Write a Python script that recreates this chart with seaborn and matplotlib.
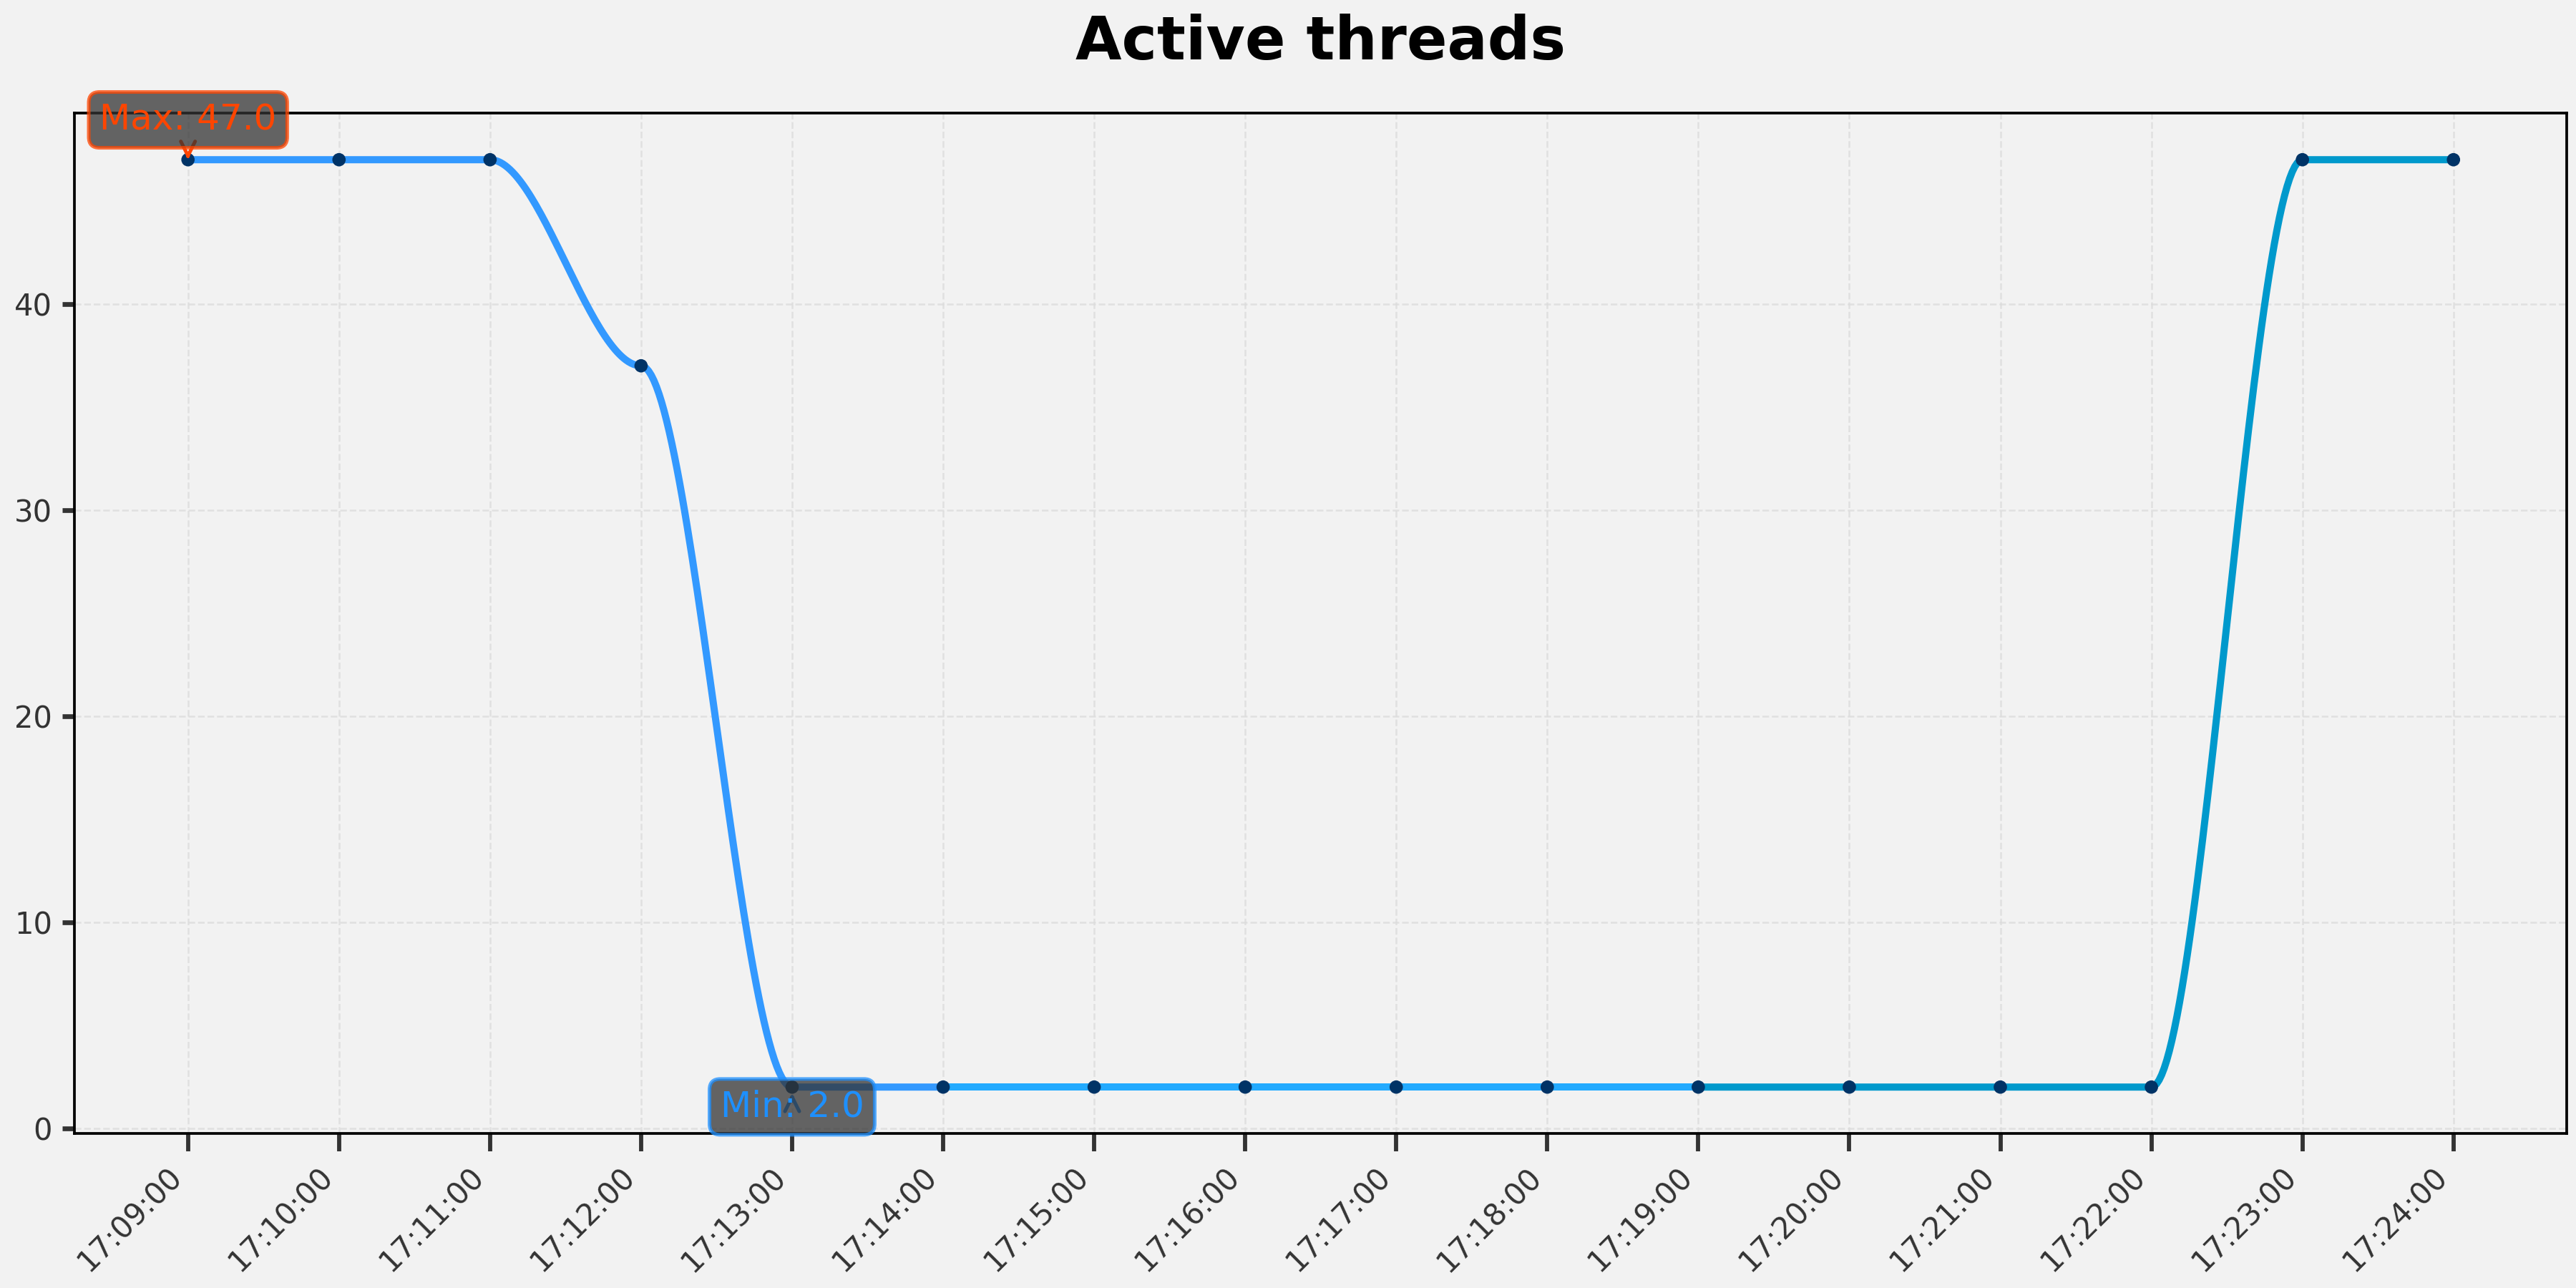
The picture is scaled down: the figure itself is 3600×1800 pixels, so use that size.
import numpy as np
import pandas as pd
import matplotlib
matplotlib.use("Agg")
import matplotlib.pyplot as plt
import matplotlib.dates as mdates
import seaborn as sns

# ---- data ----
time_labels = ["17:09:00", "17:10:00", "17:11:00", "17:12:00", "17:13:00",
               "17:14:00", "17:15:00", "17:16:00", "17:17:00", "17:18:00",
               "17:19:00", "17:20:00", "17:21:00", "17:22:00", "17:23:00",
               "17:24:00"]
threads = [47, 47, 47, 37, 2, 2, 2, 2, 2, 2, 2, 2, 2, 2, 47, 47]
segment_breaks = [0, 5, 10, 15]
segment_colors = ["#3399ff", "#22aaff", "#0099cc"]

sns.set_theme(style="ticks")
plt.rcParams["font.family"] = ["DejaVu Sans"]

times = pd.to_datetime(["2024-01-01 " + s for s in time_labels])
xnum = mdates.date2num(times.to_pydatetime())
yv = np.array(threads, dtype=float)

fig, ax = plt.subplots(figsize=(12, 6), dpi=300)
fig.patch.set_facecolor("#f2f2f2")
ax.set_facecolor("#f2f2f2")

# smooth eased curve between consecutive readings (display only)
s = np.linspace(0, 1, 60)
ease = 3 * s**2 - 2 * s**3
for g in range(len(segment_colors)):
    xs, ys = [], []
    for i in range(segment_breaks[g], segment_breaks[g + 1]):
        xs.append(xnum[i] + (xnum[i + 1] - xnum[i]) * s)
        ys.append(yv[i] + (yv[i + 1] - yv[i]) * ease)
    df = pd.DataFrame({"x": np.concatenate(xs), "y": np.concatenate(ys)})
    sns.lineplot(data=df, x="x", y="y", ax=ax, color=segment_colors[g],
                 linewidth=2.4, sort=False, estimator=None, zorder=3)

sns.scatterplot(x=xnum, y=yv, ax=ax, color="#003366", s=20,
                edgecolor="none", zorder=5)

# annotations
imax = int(np.argmax(yv))
imin = int(np.argmin(yv))
ax.annotate(f"Max: {yv[imax]:.1f}", xy=(xnum[imax], yv[imax]),
            xytext=(0, 10), textcoords="offset points", ha="center",
            fontsize=12, color="#ff4500",
            bbox=dict(boxstyle="round,pad=0.3", fc="#333333", ec="#ff4500",
                      alpha=0.75, lw=1.2),
            arrowprops=dict(arrowstyle="->", color="#ff4500", lw=1.2),
            zorder=6)
ax.annotate(f"Min: {yv[imin]:.1f}", xy=(xnum[imin], yv[imin]),
            xytext=(0, -10), textcoords="offset points", ha="center",
            fontsize=12, color="#1e90ff",
            bbox=dict(boxstyle="round,pad=0.3", fc="#333333", ec="#1e90ff",
                      alpha=0.75, lw=1.2),
            arrowprops=dict(arrowstyle="->", color="#1e90ff", lw=1.2),
            zorder=6)

ax.set_xticks(xnum)
ax.xaxis.set_major_formatter(mdates.DateFormatter("%H:%M:%S"))
ax.set_yticks([0, 10, 20, 30, 40])
ax.set_xlabel("")
ax.set_ylabel("")
ax.grid(True, linestyle="--", color="#dcdcdc", linewidth=0.6, alpha=0.8)
ax.set_axisbelow(True)

for sp in ax.spines.values():
    sp.set_visible(True)
    sp.set_color("black")
    sp.set_linewidth(0.9)

ax.tick_params(axis="x", length=6, width=1.4, color="#333333",
               labelsize=10, labelcolor="#333333")
ax.tick_params(axis="y", length=4, width=1.6, color="#333333",
               labelsize=10, labelcolor="#333333")
plt.setp(ax.get_xticklabels(), rotation=45, ha="right")

ax.set_title("Active threads", fontsize=20, fontweight="bold", pad=18,
             color="black")

fig.subplots_adjust(left=0.029, right=0.9964, top=0.912, bottom=0.12)
fig.savefig("out.png", dpi=300, facecolor=fig.get_facecolor())
